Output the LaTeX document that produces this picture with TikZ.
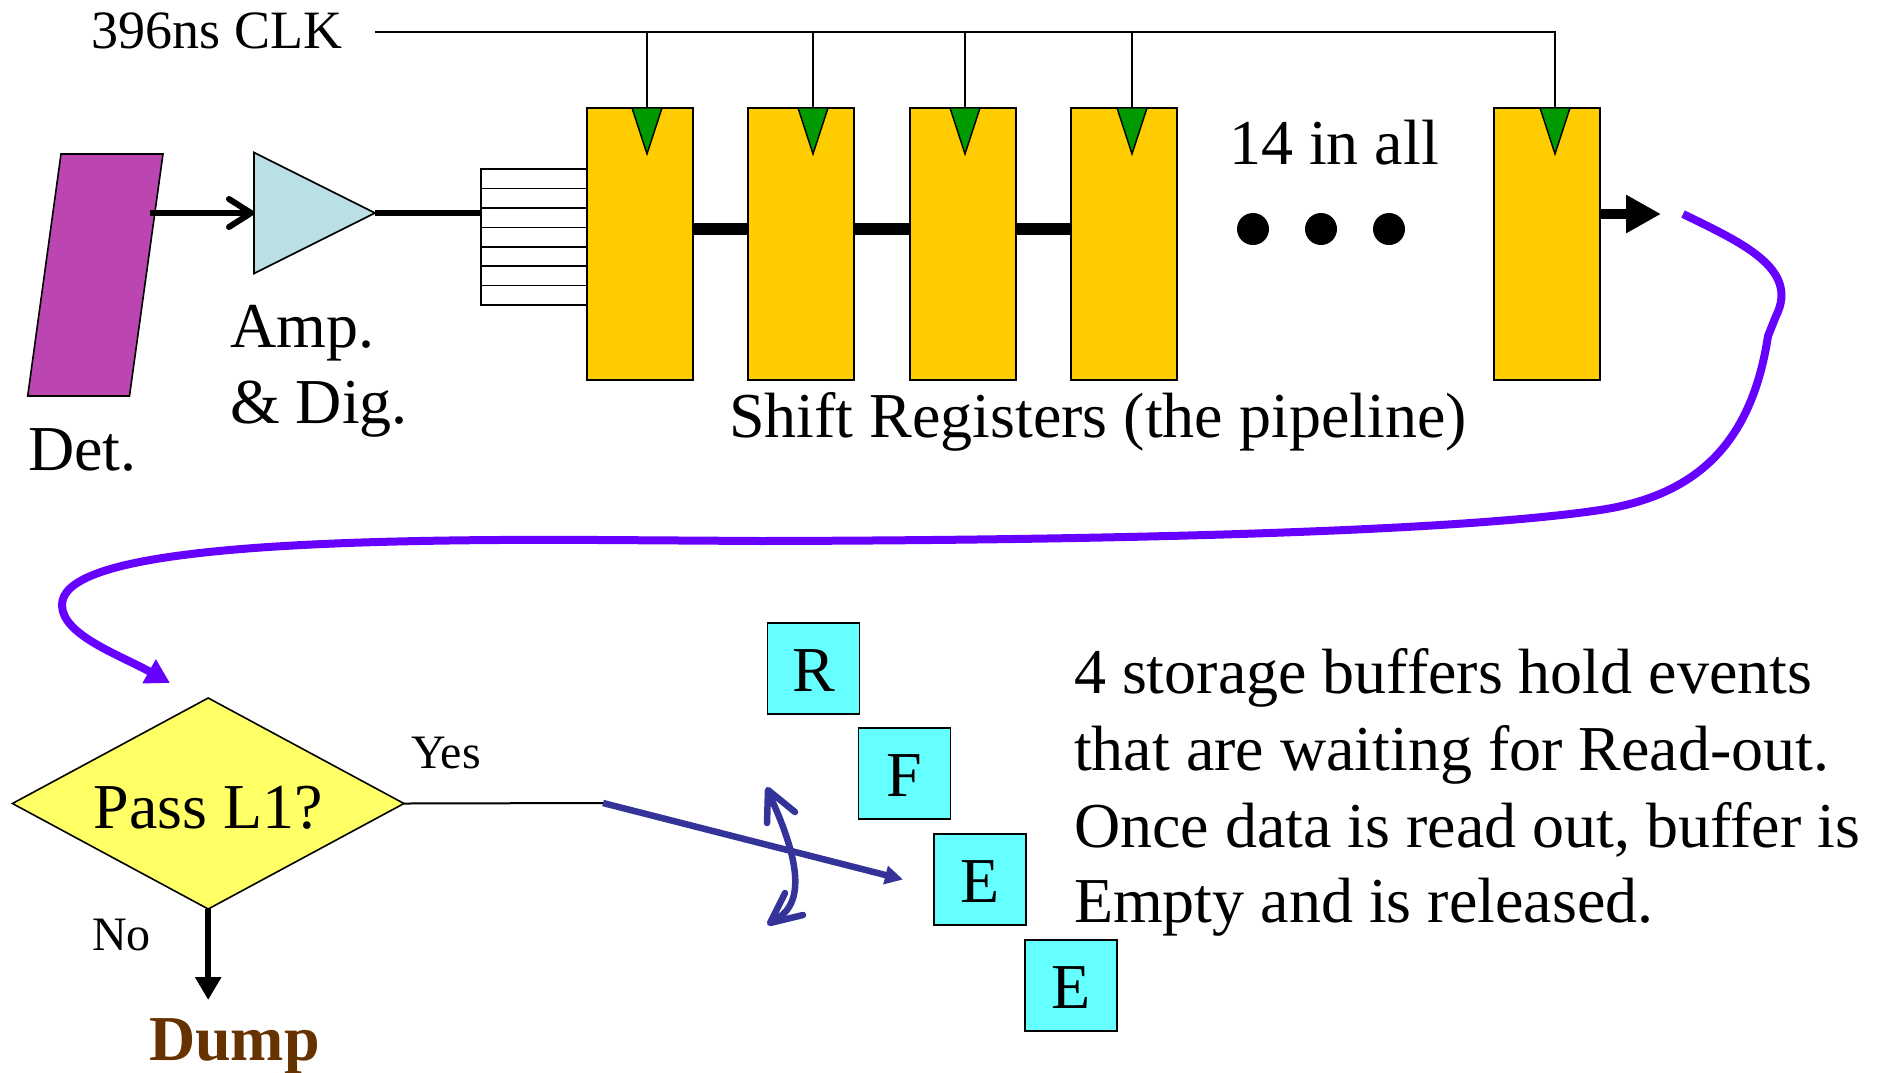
\documentclass[tikz,border=0pt]{standalone}
\usepackage{fontspec}
\setmainfont{Liberation Serif}
\usetikzlibrary{arrows.meta,shapes.geometric,calc}
\definecolor{detc}{RGB}{187,69,177}
\definecolor{ampc}{RGB}{187,224,227}
\definecolor{regc}{RGB}{255,204,0}
\definecolor{clkg}{RGB}{0,153,0}
\definecolor{decc}{RGB}{255,255,102}
\definecolor{bufc}{RGB}{102,255,255}
\definecolor{purp}{RGB}{102,0,255}
\definecolor{dblue}{RGB}{51,51,153}
\definecolor{dumpc}{RGB}{102,51,0}
\begin{document}
\begin{tikzpicture}[x=1pt,y=-1pt,
  txt/.style={inner sep=0pt, outer sep=0pt, anchor=base west},
  bigtxt/.style={txt, font=\fontsize{64}{76}\selectfont},
  midtxt/.style={txt, font=\fontsize{54}{62}\selectfont},
  smalltxt/.style={txt, font=\fontsize{48}{56}\selectfont},
  regbox/.style={draw=black, line width=1.6pt, fill=regc, minimum width=106pt, minimum height=272pt, inner sep=0pt, outer sep=0pt, anchor=north west},
  bufbox/.style={draw=black, line width=1.6pt, fill=bufc, minimum width=92pt, minimum height=91pt, inner sep=0pt, outer sep=0pt, font=\fontsize{64}{76}\selectfont, text height=46pt, text depth=0pt},
  clkwire/.style={line width=2pt},
  clktri/.style={fill=clkg, draw=black, line width=1.4pt},
  regwire/.style={line width=12pt},
  purpwire/.style={purp, line width=8pt},
  bluewire/.style={dblue, line width=6.5pt},
]
\useasboundingbox (0,0) rectangle (1878,1072);
\fill[white] (0,0) rectangle (1878,1072);

% ---------- clock ----------
\node[midtxt] (clktxt) at (91.5,48) {396ns CLK};
\coordinate (clkA) at (375,32);
\coordinate (clkB) at (1555,32);

% ---------- registers ----------
\node[regbox] (r1) at (587,108) {};
\node[regbox] (r2) at (748,108) {};
\node[regbox] (r3) at (910,108) {};
\node[regbox] (r4) at (1071,108) {};
\node[regbox] (r5) at (1494,108) {};

\coordinate (t1) at ($(r1.north west)+(60,0)$);
\coordinate (t2) at ($(r2.north west)+(65,0)$);
\coordinate (t3) at ($(r3.north west)+(55,0)$);
\coordinate (t4) at ($(r4.north west)+(61,0)$);
\coordinate (t5) at ($(r5.north west)+(61,0)$);

\draw[clkwire] (clkA) -- (clkB) -- (t5);
\foreach \t in {t1,t2,t3,t4}
  \draw[clkwire] (\t) -- (\t |- clkA);
\foreach \t in {t1,t2,t3,t4,t5}
  \filldraw[clktri] ($(\t)+(-15,0)$) -- ($(\t)+(15,0)$) -- ($(\t)+(0,46)$) -- cycle;

\coordinate (rowy) at (0,229);
\draw[regwire] (r1.east |- rowy) -- (r2.west |- rowy);
\draw[regwire] (r2.east |- rowy) -- (r3.west |- rowy);
\draw[regwire] (r3.east |- rowy) -- (r4.west |- rowy);

\node[bigtxt] (allt) at (1229,164) {14 in all};
\fill (1253,229) circle[radius=16pt];
\fill (1321,229) circle[radius=16pt];
\fill (1389,229) circle[radius=16pt];

\coordinate (outtip) at (1661,214);
\draw[line width=10pt,-{Triangle[length=35pt,width=36pt]}] (r5.east |- outtip) -- (outtip);

\node[bigtxt] (shtxt) at (729,437) {Shift Registers (the pipeline)};

% ---------- detector, amplifier, bus ----------
\filldraw[fill=detc, draw=black, line width=1.6pt] (61,154) -- (163,154) -- (129.5,396) -- (27.7,396) -- cycle;
\coordinate (detout) at (150,213);
\node[bigtxt] (dettxt) at (28,470) {Det.};

\node[isosceles triangle, isosceles triangle stretches, shape border rotate=0,
      draw=black, line width=1.6pt, fill=ampc, minimum width=121pt, minimum height=121pt,
      inner sep=0pt, outer sep=0pt, anchor=apex] (amp) at (375,213) {};
\node[bigtxt] (amptxt) at (230,347) {Amp.};
\node[bigtxt] (digtxt) at (230,423) {\& Dig.};

\draw[line width=6pt, -{Straight Barb[length=22pt,width=28pt,round]}] (detout) -- (amp.west);

\node[draw=black, line width=1.6pt, minimum width=106pt, minimum height=136pt,
      inner sep=0pt, outer sep=0pt, anchor=north west] (bus) at (481,169) {};
\foreach \y in {188.4,207.9,227.3,246.7,266.1,285.6}
  \draw[line width=1.6pt] (481,\y) -- (587,\y);
\draw[line width=6pt] (amp.apex) -- (amp.apex -| bus.west);

% ---------- trigger loop ----------
\coordinate (pstart) at (1683,214);
\coordinate (ptip) at (170,683);
\draw[purpwire, -{Triangle[length=24pt,width=26pt]}] (pstart)
  .. controls (1740,242) and (1800,268) .. (1776,316) -- (1768,336)
  .. controls (1752,440) and (1700,495) .. (1600,510)
  .. controls (1480,528) and (1200,540) .. (761,541) -- (600,540)
  .. controls (250,538) and (62,555) .. (62,605)
  .. controls (62,635) and (120,655) .. (ptip);

% ---------- decision ----------
\node[diamond, aspect=1.855, draw=black, line width=1.6pt, fill=decc,
      minimum width=391.5pt, minimum height=211pt, inner sep=0pt, outer sep=0pt,
      font=\fontsize{64}{76}\selectfont, text height=49pt, text depth=0pt] (dec) at (208.2,803.5) {Pass L1?};
\node[smalltxt] (yestxt) at (411,768) {Yes};
\node[smalltxt] (notxt) at (92,950) {No};
\coordinate (notip) at (208.2,1000);
\draw[line width=6pt, -{Triangle[length=23pt,width=25pt]}] (dec.south) -- (notip);
\node[bigtxt, font=\fontsize{64}{76}\selectfont\bfseries, text=dumpc] (dump) at (149,1060) {Dump};

% ---------- buffers ----------
\node[bufbox] (bR) at (813.5,668.5) {R};
\node[bufbox] (bF) at (904.5,773.5) {F};
\node[bufbox] (bE1) at (980,879.5) {E};
\node[bufbox] (bE2) at (1071,985.5) {E};

\coordinate (yesend) at (603,803);
\draw[line width=2pt] (dec.east) -- (yesend);
\draw[bluewire, -{Triangle[length=18pt,width=18pt]}] (yesend) -- ([xshift=-31pt]bE1.west);

\coordinate (swA) at (768,790);
\coordinate (swB) at (770,923);
\draw[bluewire, line cap=round] ($(swA)+(3,8)$) .. controls (790,840) and (812,900) .. ($(swB)+(6,-4)$);
\draw[bluewire, line cap=round, line join=round] ($(swA)+(-1,33)$) -- (swA) -- ($(swA)+(27,22)$);
\draw[bluewire, line cap=round, line join=round] ($(swB)+(15,-30)$) -- (swB) -- ($(swB)+(33,-8)$);

% ---------- description ----------
\node[bigtxt] (d1) at (1074,693) {4 storage buffers hold events};
\node[bigtxt] (d2) at (1074,770) {that are waiting for Read-out.};
\node[bigtxt] (d3) at (1074,847) {Once data is read out, buffer is};
\node[bigtxt] (d4) at (1074,922) {Empty and is released.};
\end{tikzpicture}
\end{document}
